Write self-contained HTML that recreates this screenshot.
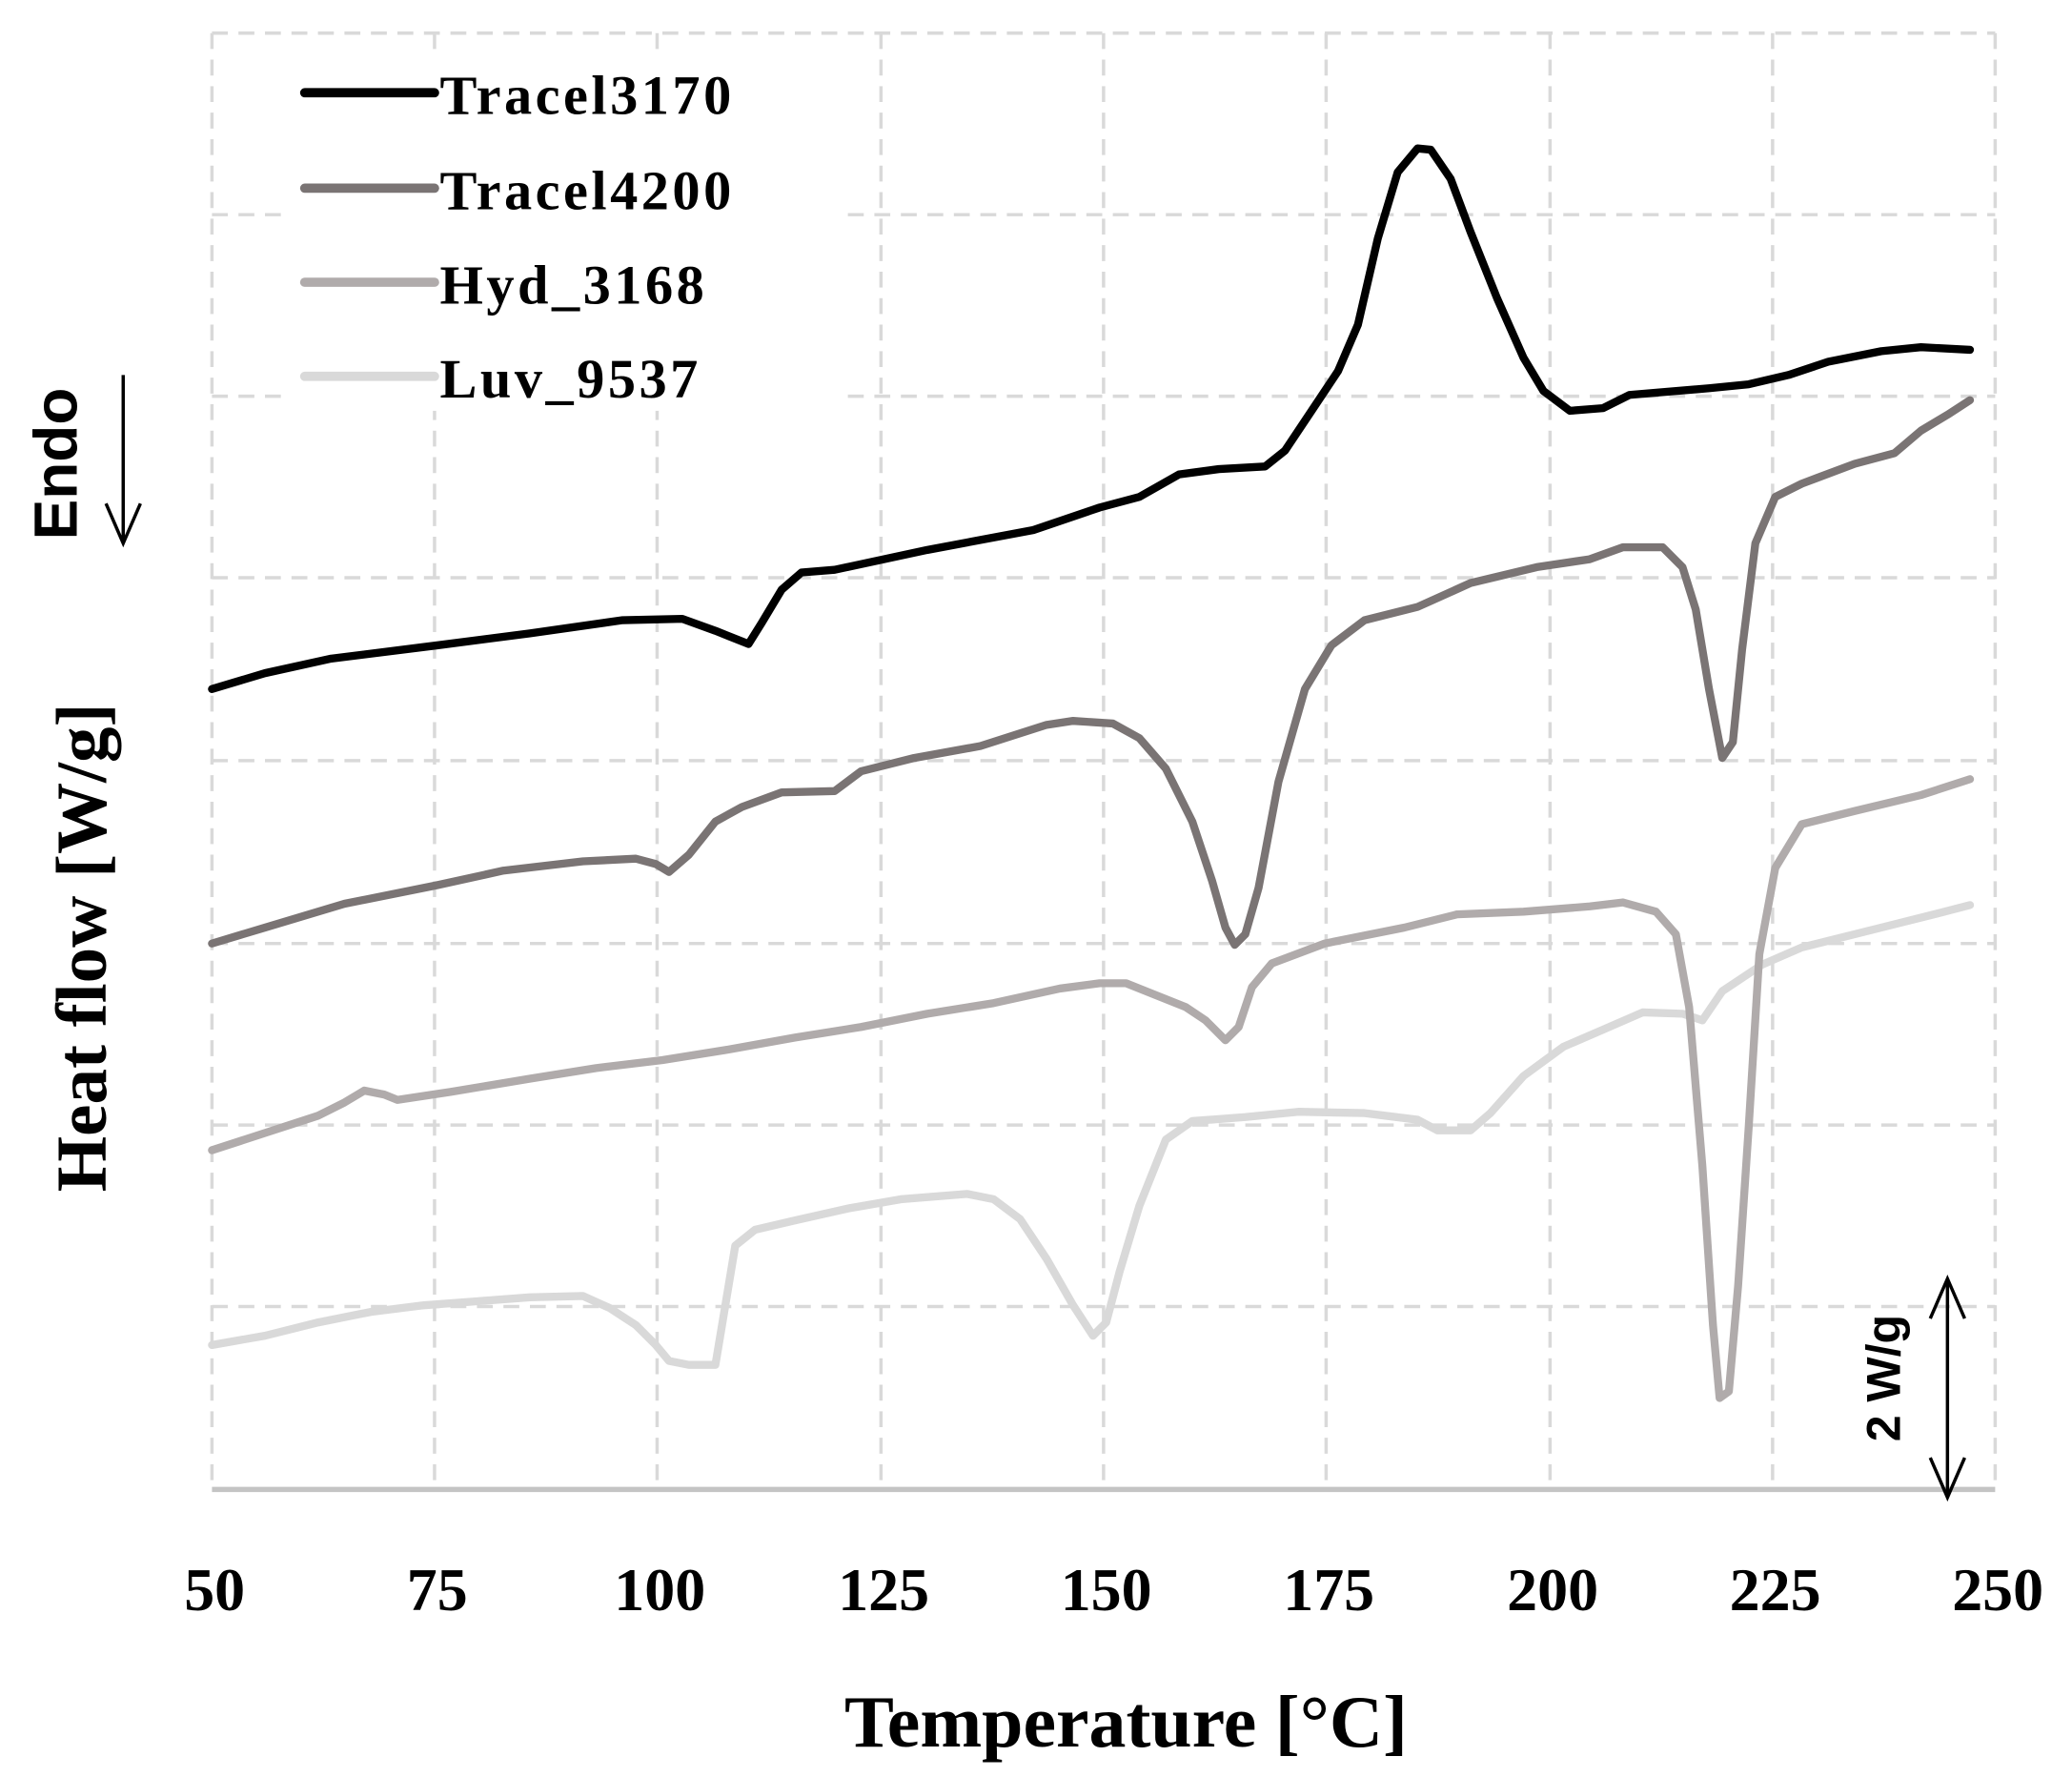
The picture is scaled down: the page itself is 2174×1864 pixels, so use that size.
<!DOCTYPE html>
<html><head><meta charset="utf-8"><style>html,body{margin:0;padding:0;background:#fff}svg{display:block}</style></head>
<body>
<svg width="2174" height="1864" viewBox="0 0 1564 1341" preserveAspectRatio="none" xmlns="http://www.w3.org/2000/svg">
<g stroke="#d9d9d9" stroke-width="2.5" stroke-dasharray="12,8" fill="none">
<line x1="160" y1="25" x2="1506" y2="25"/><line x1="160" y1="162" x2="1506" y2="162"/><line x1="160" y1="299" x2="1506" y2="299"/><line x1="160" y1="436" x2="1506" y2="436"/><line x1="160" y1="574" x2="1506" y2="574"/><line x1="160" y1="712" x2="1506" y2="712"/><line x1="160" y1="849" x2="1506" y2="849"/><line x1="160" y1="986" x2="1506" y2="986"/>
<line x1="160" y1="25" x2="160" y2="1123"/><line x1="328" y1="25" x2="328" y2="1123"/><line x1="496" y1="25" x2="496" y2="1123"/><line x1="665" y1="25" x2="665" y2="1123"/><line x1="833" y1="25" x2="833" y2="1123"/><line x1="1001" y1="25" x2="1001" y2="1123"/><line x1="1170" y1="25" x2="1170" y2="1123"/><line x1="1338" y1="25" x2="1338" y2="1123"/><line x1="1506" y1="25" x2="1506" y2="1123"/>
</g>
<rect x="215" y="40" width="420" height="270" fill="#fff"/>
<line x1="160" y1="1124" x2="1506" y2="1124" stroke="#c4c4c4" stroke-width="4"/>
<g fill="none" stroke-linejoin="round" stroke-linecap="round" stroke-width="6">
<polyline stroke="#d9d9d9" points="160,1015 200,1008 240,998 280,990 320,985 360,982 400,979 440,978 460,987 480,1000 495,1015 505,1027 520,1030 540,1030 545,1000 555,940 570,928 600,921 640,912 680,905 730,901 750,905 770,920 790,950 810,985 825,1008 835,998 845,960 860,910 880,860 900,846 940,843 980,839 1030,840 1070,845 1085,853 1110,853 1125,840 1150,812 1180,790 1210,777 1240,764 1270,765 1285,770 1300,748 1330,728 1360,715 1420,700 1460,690 1487,683"/>
<polyline stroke="#b0abab" points="160,868 200,855 240,842 260,832 275,823 290,826 300,830 340,824 400,814 450,806 500,800 550,792 600,783 650,775 700,765 750,757 800,746 830,742 850,742 870,750 895,760 910,770 925,785 935,775 945,745 960,727 1000,712 1060,700 1100,690 1150,688 1200,684 1225,681 1250,688 1265,705 1275,760 1285,880 1293,1000 1298,1055 1305,1050 1312,970 1320,850 1328,720 1340,655 1360,622 1400,612 1450,600 1487,588"/>
<polyline stroke="#7a7474" points="160,712 200,700 260,682 330,668 380,657 440,650 480,648 495,652 505,658 520,645 540,620 560,609 590,598 630,597 650,582 690,572 740,563 790,547 810,544 840,546 860,557 880,580 900,620 915,665 925,700 932,713 940,705 950,670 965,590 985,520 1005,487 1030,468 1070,458 1110,440 1160,428 1200,422 1225,413 1255,413 1270,428 1280,460 1290,520 1300,572 1308,560 1315,490 1325,410 1340,375 1360,365 1400,350 1430,342 1450,325 1470,313 1487,302"/>
<polyline stroke="#000" points="160,520 200,508 250,497 330,487 400,478 470,468 515,467 540,476 565,486 575,470 590,445 605,432 630,430 700,415 780,400 830,383 860,375 890,358 920,354 955,352 970,340 990,310 1010,280 1025,245 1040,180 1055,130 1070,112 1080,113 1095,135 1110,175 1130,225 1150,270 1165,295 1185,310 1210,308 1230,298 1290,293 1320,290 1350,283 1380,273 1420,265 1450,262 1487,264"/>
</g>
<g stroke-width="7" stroke-linecap="round">
<line x1="230" y1="70" x2="328" y2="70" stroke="#000"/>
<line x1="230" y1="142" x2="328" y2="142" stroke="#7a7474"/>
<line x1="230" y1="213" x2="328" y2="213" stroke="#b0abab"/>
<line x1="230" y1="284" x2="328" y2="284" stroke="#d9d9d9"/>
</g>
<g font-family="Liberation Serif, serif" font-weight="bold" font-size="42" letter-spacing="2.5" fill="#000">
<text x="332" y="86">Tracel3170</text>
<text x="332" y="158">Tracel4200</text>
<text x="332" y="229">Hyd_3168</text>
<text x="332" y="300">Luv_9537</text>
</g>
<g font-family="Liberation Serif, serif" font-weight="bold" font-size="46" text-anchor="middle" fill="#000">
<text x="162" y="1215">50</text><text x="330" y="1215">75</text><text x="498" y="1215">100</text><text x="667" y="1215">125</text><text x="835" y="1215">150</text><text x="1003" y="1215">175</text><text x="1172" y="1215">200</text><text x="1340" y="1215">225</text><text x="1508" y="1215">250</text>
<text x="850" y="1318" font-size="56">Temperature [°C]</text>
<text transform="translate(80,715) rotate(-90)" font-size="54">Heat flow [W/g]</text>
</g>
<text transform="translate(58,350) rotate(-90)" font-family="Liberation Sans, sans-serif" font-weight="bold" font-size="46" text-anchor="middle">Endo</text>
<g stroke="#000" stroke-width="2.5" fill="none">
<line x1="93" y1="283" x2="93" y2="410"/><polyline points="80,380 93,410 106,380"/>
<line x1="1470" y1="965" x2="1470" y2="1130"/><polyline points="1457,995 1470,965 1483,995"/><polyline points="1457,1100 1470,1130 1483,1100"/>
</g>
<text transform="translate(1434,1040) rotate(-90)" font-family="Liberation Sans, sans-serif" font-weight="bold" font-size="36" text-anchor="middle">2 W/g</text>
</svg>
</body></html>
